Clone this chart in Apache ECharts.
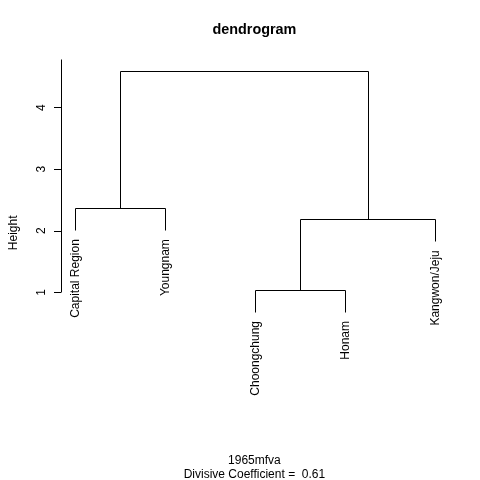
<!DOCTYPE html>
<html><head><meta charset="utf-8">
<script src="https://cdn.jsdelivr.net/npm/echarts@6/dist/echarts.min.js"></script>
<style>html,body{margin:0;padding:0;background:#fff}#c{width:480px;height:480px}</style>
</head><body><div id="c"></div>
<script>
// ---- data ----
const leafLabels = ['Capital Region', 'Youngnam', 'Choongchung', 'Honam', 'Kangwon/Jeju'];
const leafHeights = [2.01, 2.01, 0.68, 0.68, 1.83];
// merge steps, R style: negative = leaf number, positive = earlier merge step
const mergeLeft = [-1, -3, 2, 1];
const mergeRight = [-2, -4, -5, 3];
const mergeHeights = [2.365, 1.037, 2.186, 4.597];
const yTicks = [1, 2, 3, 4];
const titleText = 'dendrogram';
const xLabelText = '1965mfva';
const subText = 'Divisive Coefficient =  0.61';
const yName = 'Height';

// ---- build tree segments ----
const nodeX = [];
function childPos(c) {
  if (c < 0) return [-c, leafHeights[-c - 1]];
  return [nodeX[c - 1], mergeHeights[c - 1]];
}
const segments = [];
mergeHeights.forEach(function (h, i) {
  const l = childPos(mergeLeft[i]);
  const r = childPos(mergeRight[i]);
  segments.push([l[0], l[1], l[0], h]);
  segments.push([l[0], h, r[0], h]);
  segments.push([r[0], h, r[0], r[1]]);
  nodeX[i] = (l[0] + r[0]) / 2;
});

const xMin = 0.84, xMax = 5.16;
const yMin = -0.858, yMax = 4.792;
const FONT = '"Liberation Sans", Arial, sans-serif';
const axisSeg = [[xMin, yTicks[0], xMin, yMax]];
const leafData = leafLabels.map(function (n, i) { return [i + 1, leafHeights[i], n]; });

function crisp(v) { return Math.round(v) + 0.5; }
function lineItem(params, api) {
  const p1 = api.coord([api.value(0), api.value(1)]);
  const p2 = api.coord([api.value(2), api.value(3)]);
  return {
    type: 'line',
    shape: { x1: crisp(p1[0]), y1: crisp(p1[1]), x2: crisp(p2[0]), y2: crisp(p2[1]) },
    style: { stroke: '#000', lineWidth: 1 }
  };
}

const chart = echarts.init(document.getElementById('c'), null, { renderer: 'canvas' });
chart.setOption({
  backgroundColor: '#fff',
  animation: false,
  grid: { left: 59, right: 30.2, top: 59, bottom: 73.4, containLabel: false },
  xAxis: { type: 'value', min: xMin, max: xMax, show: false },
  yAxis: {
    type: 'value', min: yMin, max: yMax,
    name: yName, nameLocation: 'middle', nameRotate: 90, nameGap: 41,
    nameTextStyle: { color: '#000', fontSize: 12, fontFamily: FONT },
    axisLine: { show: false },
    splitLine: { show: false },
    axisTick: { show: true, length: 7, customValues: yTicks, lineStyle: { color: '#000', width: 1 } },
    axisLabel: { show: true, rotate: 90, margin: 13, customValues: yTicks, color: '#000', fontSize: 12, fontFamily: FONT }
  },
  graphic: [
    { type: 'text', x: 254.4, y: 30, style: { text: titleText, align: 'center', verticalAlign: 'middle', font: 'bold 14.4px ' + FONT, fill: '#000' } },
    { type: 'text', x: 254.4, y: 460.4, style: { text: xLabelText, align: 'center', verticalAlign: 'middle', font: '12px ' + FONT, fill: '#000' } },
    { type: 'text', x: 254.4, y: 474.4, style: { text: subText, align: 'center', verticalAlign: 'middle', font: '12px ' + FONT, fill: '#000' } }
  ],
  series: [
    {
      type: 'custom', coordinateSystem: 'cartesian2d', clip: false,
      encode: { x: [0, 2], y: [1, 3] },
      data: segments, renderItem: lineItem, silent: true
    },
    {
      type: 'custom', coordinateSystem: 'cartesian2d', clip: false,
      encode: { x: [0, 2], y: [1, 3] },
      data: axisSeg, renderItem: lineItem, silent: true
    },
    {
      type: 'custom', coordinateSystem: 'cartesian2d', clip: false,
      encode: { x: 0, y: 1 },
      data: leafData, silent: true,
      renderItem: function (params, api) {
        const p = api.coord([api.value(0), api.value(1)]);
        return {
          type: 'text', x: p[0], y: p[1] + 9, rotation: Math.PI / 2,
          style: { text: leafLabels[params.dataIndex], align: 'right', verticalAlign: 'middle', font: '12px ' + FONT, fill: '#000' }
        };
      }
    }
  ]
});
</script>
</body></html>
